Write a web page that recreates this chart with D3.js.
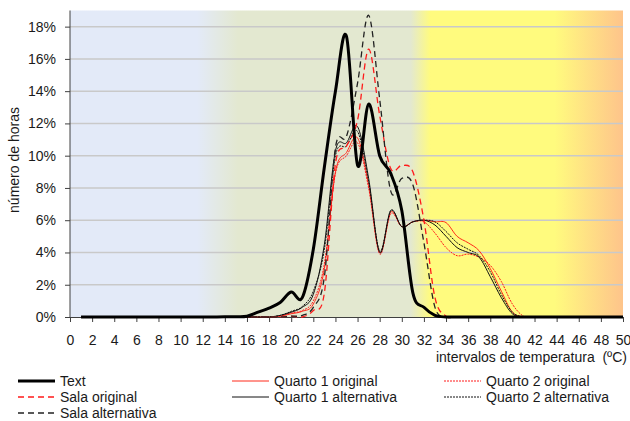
<!DOCTYPE html>
<html>
<head>
<meta charset="utf-8">
<script src="https://cdn.jsdelivr.net/npm/d3@7"></script>
<style>
  body { margin: 0; background: #fff; }
  svg { display: block; }
  text { font-family: "Liberation Sans", Arial, sans-serif; font-size: 14px; fill: #1a1a1a; }
</style>
</head>
<body>
<svg id="chart" width="630" height="421"></svg>
<script>
// Temperature intervals (ºC) and share of hours (%) per interval
const temperatures = [1,2,3,4,5,6,7,8,9,10,11,12,13,14,15,16,17,18,19,20,21,22,23,24,25,26,27,28,29,30,31,32,33,34,35,36,37,38,39,40,41,42,43,44,45,46,47,48,49,50];

const textSeries = [0,0,0,0,0,0,0,0,0,0,0,0,0,0.01,0.02,0.05,0.3,0.55,0.9,1.55,1.2,4.2,9.3,14.0,17.4,9.4,13.2,10.0,8.9,6.6,1.5,0.6,0.1,0,0,0,0,0,0,0,0,0,0,0,0,0,0,0,0,0];
const salaOriginal = [0,0,0,0,0,0,0,0,0,0,0,0,0,0,0,0,0,0,0,0.05,0,0.4,1.5,9.5,10.6,12.2,16.6,12.5,9.2,9.4,9.0,6.0,1.2,0.05,0,0,0,0,0,0,0,0,0,0,0,0,0,0,0,0];
const salaAlternativa = [0,0,0,0,0,0,0,0,0,0,0,0,0,0,0,0,0,0,0,0.05,0.1,0.6,2.5,10.5,11.2,14.5,18.7,13.5,7.8,8.6,8.2,4.6,0.6,0,0,0,0,0,0,0,0,0,0,0,0,0,0,0,0,0];
const quarto1Original = [0,0,0,0,0,0,0,0,0,0,0,0,0,0,0,0,0,0,0.05,0.2,0.35,0.8,3.0,9.0,10.2,11.1,8.2,4.0,6.5,5.6,5.9,6.0,5.9,5.85,5.0,4.6,4.1,3.0,1.6,0.3,0,0,0,0,0,0,0,0,0,0];
const quarto1Alternativa = [0,0,0,0,0,0,0,0,0,0,0,0,0,0,0,0,0,0,0.1,0.3,0.6,1.4,4.5,10.3,10.8,11.8,8.6,4.0,6.6,5.6,5.9,6.0,5.7,5.0,4.3,4.0,3.7,2.5,1.2,0.2,0,0,0,0,0,0,0,0,0,0];
const quarto2Original = [0,0,0,0,0,0,0,0,0,0,0,0,0,0,0,0,0,0,0.05,0.25,0.4,1.0,3.3,8.9,10.0,10.8,8.0,3.9,6.4,5.6,5.9,5.9,5.2,4.3,3.8,3.9,3.7,3.2,2.2,0.8,0.05,0,0,0,0,0,0,0,0,0];
const quarto2Alternativa = [0,0,0,0,0,0,0,0,0,0,0,0,0,0,0,0,0,0,0.1,0.35,0.65,1.6,4.2,10.0,10.6,11.5,8.4,4.1,6.6,5.6,5.9,6.0,5.9,5.3,4.6,4.2,3.8,2.8,1.4,0.3,0,0,0,0,0,0,0,0,0,0];

const xTicks = [0,2,4,6,8,10,12,14,16,18,20,22,24,26,28,30,32,34,36,38,40,42,44,46,48,50];
const yTicks = [0,2,4,6,8,10,12,14,16,18];

const seriesNames = ["Text", "Sala original", "Sala alternativa", "Quarto 1 original", "Quarto 1 alternativa", "Quarto 2 original", "Quarto 2 alternativa"];

// line styles per series
const styles = {
  "Text":                 { values: textSeries,         color: "#000000", width: 3,   dash: null },
  "Sala original":        { values: salaOriginal,       color: "#ff1a1a", width: 1.3, dash: "6,4" },
  "Sala alternativa":     { values: salaAlternativa,    color: "#222222", width: 1.3, dash: "6,4" },
  "Quarto 1 original":    { values: quarto1Original,    color: "#ff2a1a", width: 1,   dash: null },
  "Quarto 1 alternativa": { values: quarto1Alternativa, color: "#111111", width: 1,   dash: null },
  "Quarto 2 original":    { values: quarto2Original,    color: "#ff1a1a", width: 1,   dash: "2,1" },
  "Quarto 2 alternativa": { values: quarto2Alternativa, color: "#111111", width: 1,   dash: "2,1" }
};

const svg = d3.select("#chart");
const plot = { left: 70, right: 623, top: 10.5, bottom: 317 };

const x = d3.scaleLinear().domain([0, 50]).range([plot.left, plot.right]);
const y = d3.scaleLinear().domain([0, 19]).range([plot.bottom, plot.top]);

// temperature-zone background
const defs = svg.append("defs");
const grad = defs.append("linearGradient")
  .attr("id", "zones")
  .attr("gradientUnits", "userSpaceOnUse")
  .attr("x1", x(0)).attr("x2", x(50)).attr("y1", 0).attr("y2", 0);
[
  [0, "#e3eaf8"], [11.5, "#e3eaf8"], [15.2, "#e3e8d0"], [30.8, "#e3e8d0"],
  [32.6, "#fffb7e"], [43.8, "#fffb7e"], [50, "#fec48b"]
].forEach(([t, c]) => grad.append("stop").attr("offset", t / 50).attr("stop-color", c));

svg.append("rect")
  .attr("x", plot.left).attr("y", plot.top)
  .attr("width", plot.right - plot.left).attr("height", plot.bottom - plot.top)
  .attr("fill", "url(#zones)");

// horizontal gridlines
svg.append("g").selectAll("line").data(yTicks.filter(d => d > 0)).join("line")
  .attr("x1", plot.left).attr("x2", plot.right)
  .attr("y1", d => y(d)).attr("y2", d => y(d))
  .attr("stroke", "#c9c9c9").attr("stroke-width", 1.5);

// axes
const yAxis = svg.append("g")
  .attr("transform", `translate(${plot.left},0)`)
  .call(d3.axisLeft(y).tickValues(yTicks).tickFormat(d => d + "%").tickSize(5).tickPadding(9).tickSizeOuter(0));
const xAxis = svg.append("g")
  .attr("transform", `translate(0,${plot.bottom})`)
  .call(d3.axisBottom(x).tickValues(xTicks).tickSize(5).tickPadding(13).tickSizeOuter(0));
[yAxis, xAxis].forEach(g => {
  g.select(".domain").attr("stroke", "#404040");
  g.selectAll(".tick line").attr("stroke", "#404040");
  g.selectAll("text").attr("font-size", 14).attr("font-family", "Liberation Sans, Arial, sans-serif").attr("fill", "#1a1a1a");
});
yAxis.select(".domain").attr("d", `M0,${plot.top}V${plot.bottom}`);

// smoothed lines
const line = d3.line()
  .x((d, i) => x(temperatures[i]))
  .y(d => y(d))
  .curve(d3.curveCardinal.tension(0));

const drawOrder = ["Quarto 1 original", "Quarto 2 original", "Quarto 1 alternativa", "Quarto 2 alternativa", "Sala original", "Sala alternativa", "Text"];
svg.append("g").selectAll("path").data(drawOrder).join("path")
  .attr("d", n => line(styles[n].values))
  .attr("fill", "none")
  .attr("stroke", n => styles[n].color)
  .attr("stroke-width", n => styles[n].width)
  .attr("stroke-dasharray", n => styles[n].dash)
  .attr("stroke-linejoin", "round");

// axis titles
svg.append("text")
  .attr("transform", "translate(19,160) rotate(-90)")
  .attr("text-anchor", "middle")
  .text("número de horas");
svg.append("text")
  .attr("x", 627).attr("y", 362)
  .attr("text-anchor", "end")
  .style("white-space", "pre")
  .text("intervalos de temperatura  (ºC)");

// legend, three columns
const legendPos = {
  "Text": [18, 381], "Sala original": [18, 397], "Sala alternativa": [18, 413],
  "Quarto 1 original": [232, 381], "Quarto 1 alternativa": [232, 397],
  "Quarto 2 original": [444, 381], "Quarto 2 alternativa": [444, 397]
};
const legend = svg.append("g").selectAll("g").data(seriesNames).join("g")
  .attr("transform", n => `translate(${legendPos[n][0]},${legendPos[n][1]})`);
legend.append("line")
  .attr("x1", 0).attr("x2", 37).attr("y1", 0).attr("y2", 0)
  .attr("stroke", n => styles[n].color)
  .attr("stroke-width", n => styles[n].width)
  .attr("stroke-dasharray", n => styles[n].dash);
legend.append("text")
  .attr("x", 42).attr("y", 5)
  .text(n => n);
</script>
</body>
</html>
